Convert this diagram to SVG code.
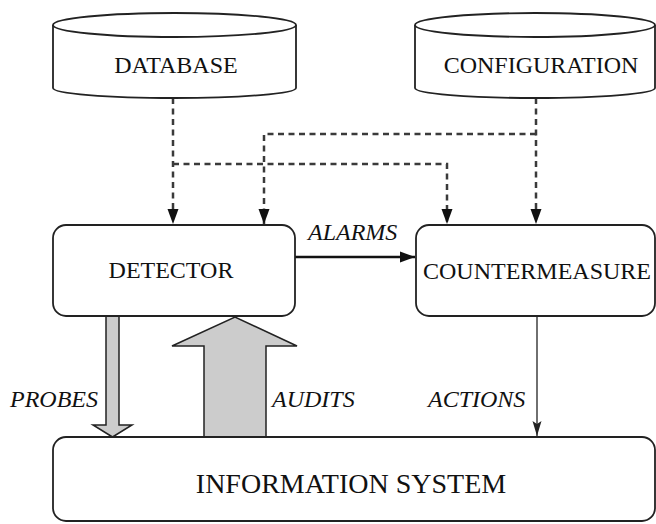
<svg xmlns="http://www.w3.org/2000/svg" width="656" height="524" viewBox="0 0 656 524">
<style>
.box{fill:#fff;stroke:#222;stroke-width:1.8}
.lbl{font-family:"Liberation Serif","Times New Roman",serif;font-size:24px;fill:#111;text-anchor:middle}
.it{font-family:"Liberation Serif","Times New Roman",serif;font-size:24px;font-style:italic;fill:#111}
.dash{fill:none;stroke:#3a3a3a;stroke-width:2.5;stroke-dasharray:6 4.5}
.fat{fill:#ccc;stroke:#222;stroke-width:1.5}
</style>
<defs>
<marker id="ah" markerUnits="userSpaceOnUse" markerWidth="16" markerHeight="14" viewBox="0 0 16 14" refX="15" refY="7" orient="auto">
<path d="M0,1.5 L15,7 L0,12.5 z" fill="#111"/>
</marker>
<marker id="ah2" markerUnits="userSpaceOnUse" markerWidth="16" markerHeight="12" viewBox="0 0 16 12" refX="15" refY="6" orient="auto">
<path d="M0,1.5 L15,6 L0,10.5 L3,6 z" fill="#222"/>
</marker>
</defs>
<g id="connectors">
<path class="dash" d="M173,98 V224" marker-end="url(#ah)"/>
<path class="dash" d="M536,98 V224" marker-end="url(#ah)"/>
<path class="dash" d="M536,134 H264 V224" marker-end="url(#ah)"/>
<path class="dash" d="M173,164 H447 V224" marker-end="url(#ah)"/>
<path d="M295,257 H415" stroke="#111" stroke-width="2.6" fill="none" marker-end="url(#ah)"/>
<path d="M537,316 V436" stroke="#333" stroke-width="1.4" fill="none" marker-end="url(#ah2)"/>
<polygon class="fat" points="106,316 119,316 119,425 132,425 112.5,437 93,425 106,425"/>
<polygon class="fat" points="204,437 266,437 266,346 297,346 235,317 172,346 204,346"/>
<text class="it" x="308" y="240">ALARMS</text>
<text class="it" x="10" y="407">PROBES</text>
<text class="it" x="272" y="407">AUDITS</text>
<text class="it" x="428" y="407">ACTIONS</text>
</g>
<g id="database">
<path class="box" d="M53,25 V88 A121.5,10 0 0 0 296,88 V25"/>
<ellipse class="box" cx="174.5" cy="25" rx="121.5" ry="12"/>
<text class="lbl" x="176" y="73">DATABASE</text>
</g>
<g id="configuration">
<path class="box" d="M415,25 V88 A120,10 0 0 0 655,88 V25"/>
<ellipse class="box" cx="535" cy="25" rx="120" ry="12"/>
<text class="lbl" x="541" y="73">CONFIGURATION</text>
</g>
<g id="detector">
<rect class="box" x="53" y="225" width="242" height="91" rx="13"/>
<text class="lbl" x="171" y="278">DETECTOR</text>
</g>
<g id="countermeasure">
<rect class="box" x="416" y="225" width="239" height="91" rx="13"/>
<text class="lbl" x="537" y="279">COUNTERMEASURE</text>
</g>
<g id="information-system">
<rect class="box" x="53" y="437" width="602" height="84" rx="13"/>
<text class="lbl" x="351" y="493" style="font-size:28px">INFORMATION SYSTEM</text>
</g>
</svg>
